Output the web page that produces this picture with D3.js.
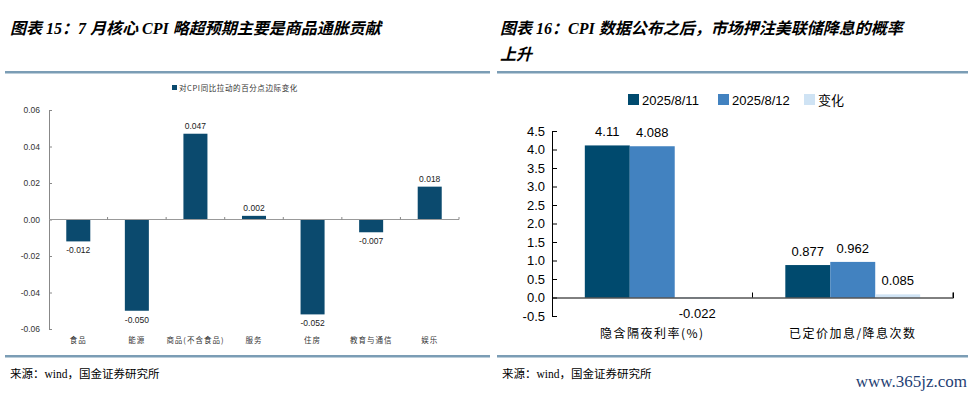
<!DOCTYPE html>
<html>
<head>
<meta charset="utf-8">
<script src="https://cdn.jsdelivr.net/npm/d3@7"></script>
<style>
  body { margin: 0; background: #fff; }
  svg { display: block; }
  .title { font-family: "Liberation Serif", "Noto Sans CJK SC", serif; font-style: italic; font-weight: bold; font-size: 16px; fill: #000; }
  .src { font-family: "Liberation Serif", "Noto Sans CJK SC", serif; font-size: 11.5px; fill: #000; }
</style>
</head>
<body>
<svg width="973" height="398"></svg>
<script>
// chart 15
const cpiCats = ['食品', '能源', '商品(不含食品)', '服务', '住房', '教育与通信', '娱乐'];
const cpiVals = [-0.012, -0.050, 0.047, 0.002, -0.052, -0.007, 0.018];
const cpiTicks = [-0.06, -0.04, -0.02, 0.00, 0.02, 0.04, 0.06];
const cpiLegend = '对CPI同比拉动的百分点边际变化';

// chart 16
const rateCats = ['隐含隔夜利率(%)', '已定价加息/降息次数'];
const rateSeries = ['2025/8/11', '2025/8/12', '变化'];
const rate0811 = [4.11, 0.877];
const rate0812 = [4.088, 0.962];
const rateChg = [-0.022, 0.085];
const rateLabels = [['4.11', '0.877'], ['4.088', '0.962'], ['-0.022', '0.085']];
const rateTicks = [-0.5, 0, 0.5, 1, 1.5, 2, 2.5, 3, 3.5, 4, 4.5];

const svg = d3.select('svg');
const ruleColor = '#7b9db5';
// plain hyphen for negatives, like the source
const loc = d3.formatLocale({decimal: '.', thousands: ',', grouping: [3], currency: ['', ''], minus: '-'});

// titles, rules, sources
svg.append('text').attr('class', 'title').attr('x', 10).attr('y', 34)
    .text('图表 15：7 月核心 CPI 略超预期主要是商品通胀贡献');
svg.append('text').attr('class', 'title').attr('x', 500).attr('y', 34)
    .text('图表 16：CPI 数据公布之后，市场押注美联储降息的概率');
svg.append('text').attr('class', 'title').attr('x', 500).attr('y', 60)
    .text('上升');

[[5, 490], [497, 968]].forEach(([a, b]) => {
    svg.append('rect').attr('x', a).attr('y', 71).attr('width', b - a).attr('height', 2.5).attr('fill', ruleColor);
    svg.append('rect').attr('x', a).attr('y', 355).attr('width', b - a).attr('height', 2.5).attr('fill', ruleColor);
});
svg.append('text').attr('class', 'src').attr('x', 10).attr('y', 378).text('来源：wind，国金证券研究所');
svg.append('text').attr('class', 'src').attr('x', 502).attr('y', 378).text('来源：wind，国金证券研究所');
svg.append('text').attr('x', 967).attr('y', 387).attr('text-anchor', 'end')
    .style('font-family', '"Liberation Serif", serif').style('font-size', '17px').attr('fill', '#1f3f74')
    .text('www.365jz.com');

// ---------- left chart ----------
const sans = 'Arial, "Liberation Sans", "Noto Sans CJK SC", sans-serif';
const cjk = '"Noto Sans CJK SC", serif';
const barDark = '#0b4a6e';

const x1 = d3.scaleBand().domain(cpiCats).range([49, 459]).paddingInner(0.59).paddingOuter(0.295);
const y1 = d3.scaleLinear().domain([-0.06, 0.06]).range([329, 110]);
const g1 = svg.append('g');

const y1Axis = g1.append('g').attr('transform', 'translate(49,0)')
    .call(d3.axisLeft(y1).tickValues(cpiTicks).tickFormat(loc.format('.2f')).tickSizeInner(-3).tickSizeOuter(0).tickPadding(9));
y1Axis.select('.domain').attr('stroke', '#888');
y1Axis.selectAll('line').attr('stroke', '#888');
y1Axis.selectAll('text').style('font-family', sans).style('font-size', '8.5px').attr('fill', '#333');

g1.selectAll('rect.bar').data(cpiVals).join('rect').attr('class', 'bar')
    .attr('x', (d, i) => x1(cpiCats[i]))
    .attr('width', x1.bandwidth())
    .attr('y', d => y1(Math.max(0, d)))
    .attr('height', d => Math.abs(y1(d) - y1(0)))
    .attr('fill', barDark);

// zero line with category ticks
const x1Step = x1.step();
g1.append('line').attr('x1', 49).attr('x2', 459).attr('y1', y1(0)).attr('y2', y1(0)).attr('stroke', '#999');
g1.selectAll('line.ct').data(d3.range(1, cpiCats.length + 1)).join('line').attr('class', 'ct')
    .attr('x1', d => 49 + d * x1Step).attr('x2', d => 49 + d * x1Step)
    .attr('y1', y1(0) - 2.5).attr('y2', y1(0)).attr('stroke', '#888');

g1.selectAll('text.val').data(cpiVals).join('text').attr('class', 'val')
    .attr('x', (d, i) => x1(cpiCats[i]) + x1.bandwidth() / 2)
    .attr('y', d => d >= 0 ? y1(d) - 5 : y1(d) + 12)
    .attr('text-anchor', 'middle')
    .style('font-family', sans).style('font-size', '8.5px').attr('fill', '#222')
    .text(d => loc.format('.3f')(d));

g1.selectAll('text.cat').data(cpiCats).join('text').attr('class', 'cat')
    .attr('x', d => x1(d) + x1.bandwidth() / 2).attr('y', 343)
    .attr('text-anchor', 'middle')
    .style('font-family', cjk).style('font-size', '7.5px').style('letter-spacing', '1px').attr('fill', '#333')
    .text(d => d);

g1.append('rect').attr('x', 172).attr('y', 85).attr('width', 5).attr('height', 5).attr('fill', barDark);
g1.append('text').attr('x', 179).attr('y', 91)
    .style('font-family', cjk).style('font-size', '7.5px').style('letter-spacing', '0.6px').attr('fill', '#333')
    .text(cpiLegend);

// ---------- right chart ----------
const colors = ['#004a6e', '#4282c0', '#cfe3f4'];
const x2 = d3.scaleBand().domain(rateCats).range([552, 953]);
const xs = d3.scaleBand().domain(rateSeries).range([0, x2.bandwidth()]).paddingOuter(0.73).paddingInner(0);
const y2 = d3.scaleLinear().domain([-0.5, 4.5]).range([316, 131]);
const g2 = svg.append('g');

const y2Axis = g2.append('g').attr('transform', 'translate(552,0)')
    .call(d3.axisLeft(y2).tickValues(rateTicks).tickFormat(loc.format('.1f')).tickSizeInner(-5).tickSizeOuter(0).tickPadding(7));
y2Axis.selectAll('text').style('font-family', sans).style('font-size', '13px').attr('fill', '#000');

const seriesVals = [rate0811, rate0812, rateChg];
seriesVals.forEach((vals, s) => {
    g2.selectAll('rect.s' + s).data(vals).join('rect').attr('class', 's' + s)
        .attr('x', (d, i) => x2(rateCats[i]) + xs(rateSeries[s]))
        .attr('width', xs.bandwidth())
        .attr('y', d => y2(Math.max(0, d)))
        .attr('height', d => Math.abs(y2(d) - y2(0)))
        .attr('fill', colors[s]);
    g2.selectAll('text.v' + s).data(vals).join('text').attr('class', 'v' + s)
        .attr('x', (d, i) => x2(rateCats[i]) + xs(rateSeries[s]) + xs.bandwidth() / 2)
        .attr('y', d => d >= 0 ? y2(d) - 9 : y2(d) + 20)
        .attr('text-anchor', 'middle')
        .style('font-family', sans).style('font-size', '13px').attr('fill', '#000')
        .text((d, i) => rateLabels[s][i]);
});

const x2Axis = g2.append('g').attr('transform', `translate(0,${y2(0)})`)
    .call(d3.axisBottom(x2).tickSizeInner(-5).tickSizeOuter(-5).tickFormat(''));
// move ticks to category boundaries
x2Axis.selectAll('.tick').attr('transform', d => `translate(${x2(d) + x2.bandwidth()},0)`);

g2.selectAll('text.cat2').data(rateCats).join('text').attr('class', 'cat2')
    .attr('x', d => x2(d) + x2.bandwidth() / 2).attr('y', 338)
    .attr('text-anchor', 'middle')
    .style('font-family', cjk).style('font-size', '12px').style('letter-spacing', '1.5px').attr('fill', '#000')
    .text(d => d);

// legend
const legX = [628, 718, 804];
rateSeries.forEach((s, i) => {
    g2.append('rect').attr('x', legX[i]).attr('y', 94).attr('width', 11).attr('height', 11).attr('fill', colors[i]);
    g2.append('text').attr('x', legX[i] + 14).attr('y', 104.5)
        .style('font-family', i < 2 ? sans : cjk).style('font-size', '13px').attr('fill', '#000')
        .text(s);
});
</script>
</body>
</html>
